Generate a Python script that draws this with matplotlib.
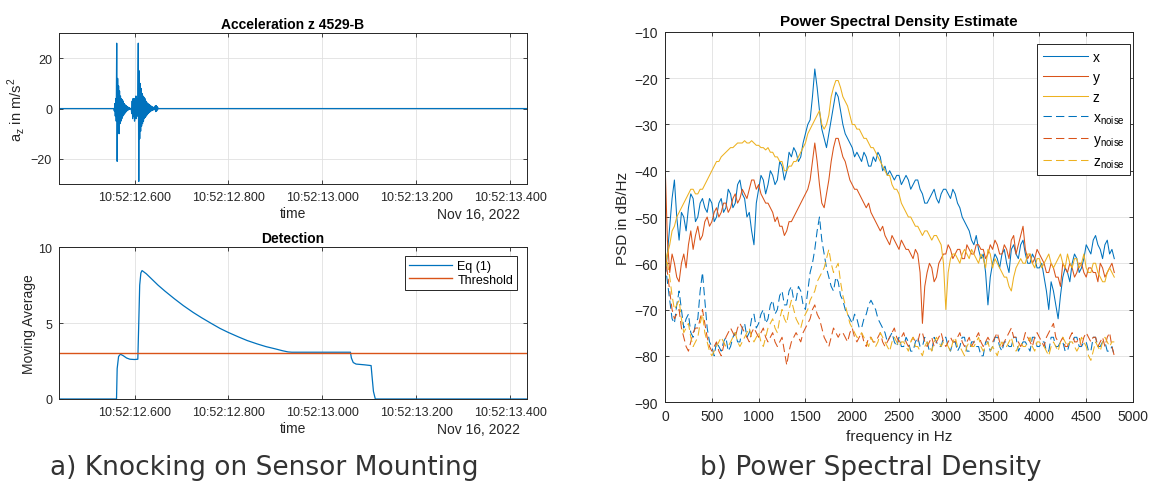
import numpy as np
import matplotlib.pyplot as plt

plt.rcParams['font.family'] = ['Liberation Sans', 'DejaVu Sans']

BLUE = '#0072BD'
ORANGE = '#D95319'
YELLOW = '#EDB120'
AX_COL = '#262626'

# ---- acceleration z (m/s^2), seconds after 10:52:00 ----
t_start, t_end = 12.439, 13.436
dt = 0.001
knock1_t0 = 12.556
knock1 = [0, -1, 2, -3, 4, -5, 26, -21, 12, -8, 9, -10, 7, -6, 5, -5, 4, -4,
          3.5, -3, 3, -2.5, 2, -2, 1.5, -1.5, 1.2, -1, 0.8, -0.8, 0.6, -0.5,
          0.4, -0.3, 0.2, -0.2, 0]
knock2_t0 = 12.593
knock2 = [0, -2, 3, -4, 4, -3, 4, -5, 3, -4, 5, -4, 4, -3, 4, 26, -29, 15, -12,
          10, -9, 8, -7, 6, -6, 5, -5, 4.5, -4, 4, -3.5, 3, -3, 2.5, -2.5, 2,
          -2, 1.8, -1.6, 1.5, -1.3, 1.2, -1, 0.9, -0.8, 0.7, -0.6, 0.5, -0.5,
          0.4, -0.4, 1, -1.2, 1.2, -1, 0.8, -0.5, 0.3, 0]

# ---- detection: moving average (Eq 1) and threshold ----
det_t = [12.439, 12.5616, 12.563, 12.566, 12.570, 12.576, 12.583, 12.590,
         12.600, 12.607, 12.609, 12.611, 12.6135, 12.616, 12.625, 12.635,
         12.650, 12.665, 12.685, 12.704, 12.725, 12.743, 12.765, 12.782,
         12.800, 12.822, 12.840, 12.861, 12.880, 12.900, 12.915, 12.927,
         12.935, 13.060, 13.062, 13.066, 13.072, 13.090, 13.104, 13.106,
         13.109, 13.113, 13.436]
det_v = [0, 0, 2.0, 2.8, 2.95, 2.85, 2.7, 2.62, 2.6, 2.62, 5.0, 7.5, 8.3, 8.46,
         8.25, 7.95, 7.5, 7.1, 6.6, 6.15, 5.7, 5.35, 4.95, 4.65, 4.38, 4.08,
         3.85, 3.63, 3.45, 3.3, 3.18, 3.1, 3.08, 3.08, 2.7, 2.4, 2.3, 2.25, 2.2,
         1.5, 0.5, 0, 0]
threshold = 3.0

# ---- PSD estimates (dB/Hz), one value every 25 Hz from 0 to 4800 Hz ----
freq_step = 25
psd_x = [
    -63, -58, -52, -46, -42, -50, -55, -49, -50, -53, -48, -45, -46, -51, -50, -47, -46, -48, -49, -46,
    -47, -51, -50, -47, -46, -49, -48, -44, -45, -48, -47, -43, -42, -45, -46, -50, -49, -53, -56, -47,
    -44, -41, -42, -45, -43, -40, -41, -43, -42, -38, -39, -42, -40, -36, -37, -35, -36, -38, -37, -34,
    -32, -30, -29, -24, -18, -22, -27, -31, -33, -35, -32, -29, -26, -23, -24, -27, -30, -32, -33, -34,
    -35, -37, -36, -37, -38, -36, -37, -39, -39, -37, -38, -36, -37, -40, -39, -41, -40, -41, -42, -41,
    -41, -43, -42, -41, -42, -44, -43, -42, -42, -44, -45, -47, -47, -46, -45, -44, -46, -47, -45, -44,
    -44, -45, -46, -44, -45, -47, -48, -50, -51, -52, -53, -55, -56, -54, -57, -59, -58, -62, -69, -63,
    -60, -58, -59, -61, -58, -57, -60, -62, -57, -56, -58, -59, -56, -55, -58, -60, -60, -58, -59, -61,
    -61, -60, -63, -66, -70, -64, -66, -69, -72, -67, -63, -61, -62, -64, -60, -58, -59, -62, -61, -59,
    -56, -57, -58, -55, -54, -56, -57, -59, -56, -55, -58, -57, -59]
psd_y = [
    -38, -55, -62, -58, -60, -63, -64, -60, -58, -61, -56, -53, -57, -54, -52, -55, -54, -51, -50, -52,
    -51, -49, -48, -50, -49, -47, -47, -49, -48, -46, -45, -47, -46, -44, -45, -46, -44, -42, -42, -44,
    -43, -45, -46, -47, -47, -48, -49, -51, -50, -52, -52, -54, -53, -51, -51, -50, -49, -48, -47, -46,
    -45, -44, -42, -38, -34, -38, -43, -47, -48, -45, -42, -38, -35, -33, -33, -35, -37, -38, -40, -42,
    -43, -44, -44, -45, -46, -47, -48, -47, -49, -50, -51, -52, -53, -52, -54, -55, -56, -54, -55, -56,
    -57, -55, -56, -57, -57, -58, -59, -57, -58, -62, -73, -65, -62, -60, -61, -64, -63, -60, -59, -58,
    -58, -56, -57, -59, -58, -57, -57, -59, -59, -56, -57, -58, -58, -56, -56, -57, -57, -59, -58, -56,
    -57, -55, -56, -58, -58, -56, -57, -59, -55, -54, -58, -56, -54, -52, -57, -59, -58, -60, -59, -57,
    -58, -59, -60, -62, -62, -60, -61, -63, -63, -65, -60, -61, -62, -60, -61, -63, -62, -60, -60, -62,
    -63, -61, -61, -62, -62, -64, -60, -61, -63, -62, -61, -60, -62]
psd_z = [
    -62, -58, -56, -53, -52, -50, -49, -48, -47, -46, -45, -44, -44, -45, -45, -44, -44, -43, -42, -41,
    -40, -39, -38, -38, -37, -36.5, -36, -35.5, -35, -35, -34.5, -34, -34, -34, -33.5, -34, -34, -33.5, -34, -34.5,
    -34.5, -35, -35, -35.5, -35, -36, -36, -37, -37, -38, -38, -40, -40, -39, -39, -38, -38, -37, -36, -35,
    -34, -32, -31, -30, -29, -28, -27, -30, -31, -30, -28, -24, -22, -20.5, -20.5, -22, -24, -25, -26, -28,
    -30, -30, -31, -31, -32, -33, -33, -34, -35, -35, -36, -37, -38, -39, -40, -41, -41, -43, -44, -44,
    -45, -47, -48, -49, -50, -50, -51, -52, -52, -53, -54, -53, -53, -54, -55, -54, -54, -55, -56, -60,
    -70, -62, -59, -58, -58, -59, -60, -58, -57, -58, -59, -57, -58, -59, -60, -58, -59, -61, -57, -58,
    -61, -59, -60, -61, -62, -63, -63, -65, -66, -63, -61, -60, -59, -60, -60, -58, -58, -60, -61, -59,
    -59, -61, -60, -59, -58, -60, -61, -60, -59, -58, -60, -61, -58, -60, -61, -59, -59, -61, -60, -58,
    -61, -62, -62, -60, -60, -62, -63, -64, -64, -62, -61, -62, -63]
psd_x_noise = [
    -60, -64, -68, -72, -73, -69, -66, -70, -74, -72, -71, -75, -76, -73, -72, -66, -62, -68, -74, -77,
    -78, -80, -77, -78, -79, -77, -76, -79, -78, -76, -75, -77, -77, -74, -73, -76, -75, -72, -71, -74,
    -73, -71, -70, -73, -72, -69, -68, -71, -70, -67, -66, -69, -69, -66, -65, -68, -68, -65, -66, -69,
    -70, -66, -62, -60, -57, -53, -50, -55, -58, -61, -63, -65, -66, -63, -64, -67, -68, -70, -71, -72,
    -73, -71, -72, -74, -74, -72, -71, -69, -68, -69, -70, -72, -73, -74, -75, -77, -76, -75, -77, -78,
    -76, -78, -78, -76, -77, -79, -79, -77, -76, -78, -78, -76, -77, -79, -79, -76, -77, -78, -78, -76,
    -76, -78, -79, -77, -77, -79, -78, -76, -76, -79, -79, -77, -77, -78, -78, -80, -80, -77, -77, -79,
    -78, -76, -76, -78, -79, -77, -77, -78, -78, -76, -76, -79, -78, -77, -77, -78, -79, -76, -76, -78,
    -78, -77, -77, -79, -79, -76, -76, -78, -78, -77, -77, -79, -79, -77, -77, -76, -76, -78, -78, -77,
    -77, -79, -79, -76, -76, -78, -78, -77, -77, -79, -79, -78, -80]
psd_y_noise = [
    -58, -62, -66, -70, -72, -71, -70, -74, -76, -78, -79, -77, -75, -74, -74, -72, -70, -73, -76, -78,
    -79, -78, -77, -79, -80, -78, -76, -75, -74, -75, -76, -74, -73, -74, -75, -76, -77, -75, -74, -75,
    -76, -75, -74, -76, -77, -76, -75, -77, -78, -77, -76, -79, -82, -79, -77, -76, -75, -76, -77, -75,
    -74, -73, -72, -70, -69, -71, -72, -74, -76, -77, -78, -76, -74, -75, -76, -75, -75, -76, -77, -75,
    -74, -76, -77, -76, -75, -77, -78, -76, -76, -77, -77, -76, -75, -77, -78, -77, -76, -75, -74, -76,
    -77, -76, -75, -77, -78, -77, -76, -77, -77, -75, -75, -77, -78, -77, -76, -78, -77, -76, -75, -77,
    -78, -77, -76, -77, -77, -76, -75, -77, -78, -77, -76, -78, -77, -76, -75, -77, -78, -77, -76, -77,
    -77, -76, -75, -77, -78, -77, -76, -75, -74, -76, -76, -77, -78, -77, -75, -76, -77, -78, -76, -75,
    -76, -77, -78, -76, -75, -74, -73, -76, -77, -77, -76, -78, -78, -76, -75, -77, -77, -76, -78, -76,
    -75, -76, -77, -76, -76, -78, -77, -76, -78, -76, -75, -78, -80]
psd_z_noise = [
    -57, -60, -63, -67, -70, -69, -68, -72, -75, -74, -73, -76, -78, -77, -76, -73, -71, -75, -77, -79,
    -80, -79, -78, -77, -76, -77, -78, -78, -77, -76, -75, -77, -78, -77, -76, -75, -74, -76, -77, -76,
    -75, -77, -78, -76, -74, -73, -72, -74, -75, -72, -70, -72, -73, -70, -68, -70, -72, -73, -74, -72,
    -71, -70, -68, -67, -66, -64, -63, -62, -61, -59, -57, -60, -62, -61, -60, -64, -67, -69, -71, -73,
    -74, -75, -76, -76, -75, -76, -77, -78, -76, -77, -78, -77, -75, -76, -77, -78, -79, -77, -76, -77,
    -78, -77, -77, -78, -79, -77, -76, -78, -78, -79, -80, -78, -77, -78, -79, -77, -76, -77, -78, -77,
    -77, -78, -79, -77, -76, -78, -78, -79, -80, -78, -77, -78, -78, -77, -76, -78, -79, -78, -77, -79,
    -78, -79, -80, -78, -77, -78, -78, -77, -76, -78, -79, -78, -77, -78, -78, -77, -76, -78, -79, -77,
    -77, -78, -78, -79, -80, -78, -77, -78, -79, -77, -76, -77, -78, -77, -77, -78, -79, -78, -76, -77,
    -78, -80, -81, -79, -77, -78, -79, -77, -76, -77, -78, -77, -77]

time_ticks = [12.6, 12.8, 13.0, 13.2, 13.4]
time_labels = ['10:52:12.600', '10:52:12.800', '10:52:13.000',
               '10:52:13.200', '10:52:13.400']


def matlab_axes(ax, fs):
    ax.tick_params(direction='in', top=True, right=True, length=3, width=0.6,
                   colors=AX_COL, labelsize=fs, pad=5)
    for s in ax.spines.values():
        s.set_linewidth(0.7)
        s.set_color(AX_COL)
    ax.grid(True, color='#e0e0e0', lw=0.6)
    ax.set_axisbelow(True)


fig = plt.figure(figsize=(11.54, 4.85), dpi=100)

# ---------- a) acceleration ----------
ax1 = fig.add_axes([0.0511, 0.6186, 0.4055, 0.311])
t_acc = np.concatenate([[t_start],
                        knock1_t0 + dt * np.arange(len(knock1)),
                        knock2_t0 + dt * np.arange(len(knock2)),
                        [t_end]])
v_acc = np.concatenate([[0], knock1, knock2, [0]])
ax1.plot(t_acc, v_acc, color=BLUE, lw=0.9)
ax1.set_xlim(t_start, t_end)
ax1.set_ylim(-30, 30)
ax1.set_yticks([-20, 0, 20])
ax1.set_xticks(time_ticks)
ax1.set_xticklabels(time_labels)
matlab_axes(ax1, 9)
ax1.set_title('Acceleration z 4529-B', fontsize=10, fontweight='bold', pad=4)
ax1.set_ylabel(r'a$_\mathregular{z}$ in m/s$^\mathregular{2}$', fontsize=10.5,
               color=AX_COL)
ax1.yaxis.set_label_coords(-0.068, 0.5)
ax1.set_xlabel('time', fontsize=10, color=AX_COL, labelpad=2)
ax1.text(0.985, -0.15, 'Nov 16, 2022', transform=ax1.transAxes, ha='right',
         va='top', fontsize=10, color=AX_COL)

# ---------- a) detection ----------
ax2 = fig.add_axes([0.0511, 0.1753, 0.4055, 0.313])
ax2.plot(det_t, det_v, color=BLUE, lw=0.9, label='Eq (1)')
ax2.axhline(threshold, color=ORANGE, lw=1.0, label='Threshold')
ax2.set_xlim(t_start, t_end)
ax2.set_ylim(0, 10)
ax2.set_yticks([0, 5, 10])
ax2.set_xticks(time_ticks)
ax2.set_xticklabels(time_labels)
matlab_axes(ax2, 9)
ax2.set_title('Detection', fontsize=10, fontweight='bold', pad=4)
ax2.set_ylabel('Moving Average', fontsize=10, color=AX_COL)
ax2.yaxis.set_label_coords(-0.05, 0.5)
ax2.set_xlabel('time', fontsize=10, color=AX_COL, labelpad=2)
ax2.text(0.985, -0.15, 'Nov 16, 2022', transform=ax2.transAxes, ha='right',
         va='top', fontsize=10, color=AX_COL)
leg2 = ax2.legend(loc='upper right', bbox_to_anchor=(0.979, 0.941),
                  fontsize=9, frameon=True, fancybox=False, framealpha=1,
                  edgecolor=AX_COL, handlelength=3.5, borderpad=0.3,
                  labelspacing=0.15, handletextpad=0.4, borderaxespad=0)
leg2.get_frame().set_linewidth(0.7)

# ---------- b) PSD ----------
ax3 = fig.add_axes([0.5763, 0.169, 0.4055, 0.763])
freq = freq_step * np.arange(len(psd_x))
dash = (0, (8, 4))
ax3.plot(freq, psd_x, color=BLUE, lw=0.75, label='x')
ax3.plot(freq, psd_y, color=ORANGE, lw=0.75, label='y')
ax3.plot(freq, psd_z, color=YELLOW, lw=0.75, label='z')
ax3.plot(freq, psd_x_noise, color=BLUE, lw=0.75, ls=dash,
         label=r'x$_\mathregular{noise}$')
ax3.plot(freq, psd_y_noise, color=ORANGE, lw=0.75, ls=dash,
         label=r'y$_\mathregular{noise}$')
ax3.plot(freq, psd_z_noise, color=YELLOW, lw=0.75, ls=dash,
         label=r'z$_\mathregular{noise}$')
ax3.set_xlim(0, 5000)
ax3.set_ylim(-90, -10)
ax3.set_xticks(np.arange(0, 5001, 500))
ax3.set_yticks(np.arange(-90, -9, 10))
matlab_axes(ax3, 10)
ax3.set_title('Power Spectral Density Estimate', fontsize=11,
              fontweight='bold', pad=5)
ax3.set_ylabel('PSD in dB/Hz', fontsize=11, color=AX_COL, labelpad=3)
ax3.set_xlabel('frequency in Hz', fontsize=11, color=AX_COL, labelpad=4)
leg3 = ax3.legend(loc='upper right', bbox_to_anchor=(0.9936, 0.9676),
                  fontsize=10, frameon=True, fancybox=False, framealpha=1,
                  edgecolor=AX_COL, handlelength=3.3, borderpad=0.4,
                  labelspacing=0.45, handletextpad=0.3, borderaxespad=0)
leg3.get_frame().set_linewidth(0.7)

# ---------- captions ----------
fig.text(50 / 1154, 1 - 468 / 485, 'a) Knocking on Sensor Mounting',
         family='DejaVu Sans', fontsize=19, color='#333333', va='center')
fig.text(700 / 1154, 1 - 468 / 485, 'b) Power Spectral Density',
         family='DejaVu Sans', fontsize=19, color='#333333', va='center')

fig.savefig('out.png', dpi=100, facecolor='white')
